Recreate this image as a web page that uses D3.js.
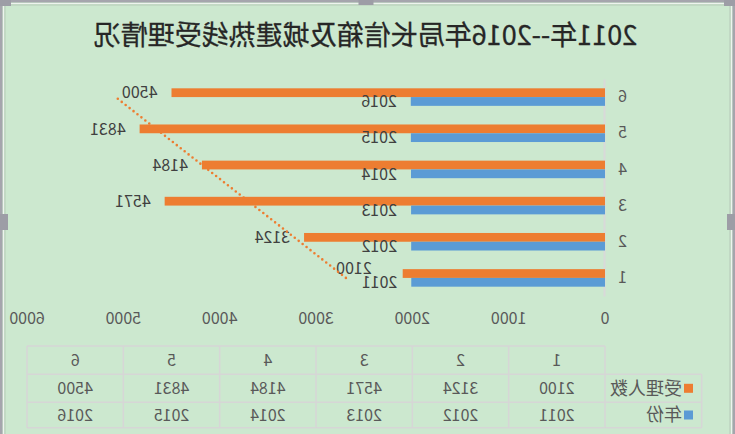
<!DOCTYPE html>
<html>
<head>
<meta charset="utf-8">
<script src="https://cdn.jsdelivr.net/npm/d3@7"></script>
<style>
  body { margin: 0; background: #cce8cf; }
  svg { display: block; font-family: "Noto Sans CJK SC", "Noto Sans", sans-serif; }
</style>
</head>
<body>
<div class="canvas"></div>
<script>
// data
const categories = ['1', '2', '3', '4', '5', '6'];
const people = [2100, 3124, 4571, 4184, 4831, 4500];   // 受理人数
const years = [2011, 2012, 2013, 2014, 2015, 2016];    // 年份
const xTicks = [0, 1000, 2000, 3000, 4000, 5000, 6000];
const seriesNames = ['受理人数', '年份'];
const seriesColors = ['#ed7d31', '#5b9bd5'];
const title = '2011年--2016年局长信箱及城建热线受理情况';

const W = 735, H = 434;

const svg = d3.select('.canvas')
  .append('svg')
    .attr('width', W)
    .attr('height', H);

svg.append('rect')
  .attr('width', W).attr('height', H)
  .attr('fill', '#cce8cf');

// the reference is a mirrored picture, so draw normally and flip the whole thing
const root = svg.append('g')
  .attr('transform', `translate(${W}, 0) scale(-1, 1)`);

// frame of the chart object
const frame = root.append('g');
frame.append('rect').attr('x', 1).attr('y', 1).attr('width', W - 2).attr('height', H + 4)
  .attr('fill', 'none').attr('stroke', '#a5a5ad').attr('stroke-width', 3);
frame.append('rect').attr('x', 3.5).attr('y', 3.5).attr('width', W - 7).attr('height', H)
  .attr('fill', 'none').attr('stroke', '#eef3ee').attr('stroke-width', 1);
frame.append('rect').attr('x', 5).attr('y', 5).attr('width', W - 10).attr('height', H)
  .attr('fill', 'none').attr('stroke', '#b7c9b9').attr('stroke-width', 1);
// selection handles
[[0, 0, 11, 6], [W - 11, 0, 11, 6], [W / 2 - 6, 0, 15, 5], [0, 214, 8, 16], [W - 8, 214, 8, 16]]
  .forEach(h => frame.append('rect')
    .attr('x', h[0]).attr('y', h[1]).attr('width', h[2]).attr('height', h[3])
    .attr('fill', '#9d9da6'));

// title
root.append('text')
  .attr('x', 369.5).attr('y', 45)
  .attr('text-anchor', 'middle')
  .attr('font-size', 27)
  .attr('fill', '#262626')
  .attr('stroke', '#262626')
  .attr('stroke-width', 0.3)
  .text(title);

// scales
const x = d3.scaleLinear()
  .domain([0, 6000])
  .range([130, 708]);

const y = d3.scaleBand()
  .domain(categories)
  .range([296, 79])
  .paddingInner(0.515)
  .paddingOuter(0.2575);

const ySub = d3.scaleBand()
  .domain(seriesNames)
  .range([0, y.bandwidth()]);

// value axis labels (no line, no gridlines)
root.append('g').selectAll('text')
  .data(xTicks)
  .enter()
  .append('text')
    .attr('x', d => x(d))
    .attr('y', 324)
    .attr('text-anchor', 'middle')
    .attr('font-size', 16)
    .attr('fill', '#595959')
    .text(d => d);

// category axis
const yAxis = d3.axisLeft(y).tickSize(0).tickPadding(13);
const yAxisGroup = root.append('g')
  .attr('transform', `translate(${x(0)}, 0)`)
  .call(yAxis);
yAxisGroup.select('.domain')
  .attr('stroke', '#d9d9d9')
  .attr('stroke-width', 2);
yAxisGroup.selectAll('text')
  .attr('font-size', 16)
  .attr('font-family', '"Noto Sans CJK SC", sans-serif')
  .attr('fill', '#595959');

// bars
const series = [people, years];
series.forEach((vals, s) => {
  const rows = vals.map((v, i) => ({ cat: categories[i], v }));
  root.append('g').selectAll('rect')
    .data(rows)
    .enter()
    .append('rect')
      .attr('x', x(0))
      .attr('y', d => y(d.cat) + ySub(seriesNames[s]))
      .attr('width', d => x(d.v) - x(0))
      .attr('height', ySub.bandwidth())
      .attr('fill', seriesColors[s]);

  root.append('g').selectAll('text')
    .data(rows)
    .enter()
    .append('text')
      // first 受理人数 label was dragged aside in the original
      .attr('x', (d, i) => x(d.v) + (s === 0 && i === 0 ? 31 : 14))
      .attr('y', (d, i) => y(d.cat) + ySub(seriesNames[s]) + ySub.bandwidth() / 2 + (s === 0 && i === 0 ? -5 : 0))
      .attr('dy', '0.36em')
      .attr('font-size', 16)
      .attr('fill', '#404040')
      .text(d => d.v);
});

// linear trendline for 受理人数
const xs = categories.map(Number);
const mx = d3.mean(xs), my = d3.mean(people);
const slope = d3.sum(xs, (c, i) => (c - mx) * (people[i] - my)) / d3.sum(xs, c => (c - mx) ** 2);
const trend = xs.map(c => my + slope * (c - mx));
const line = d3.line()
  .x(d => x(d[1]))
  .y(d => y(d[0]) + y.bandwidth() / 2);
root.append('path')
  .datum([[categories[0], trend[0]], [categories[5], trend[5]]])
  .attr('d', line)
  .attr('fill', 'none')
  .attr('stroke', '#ed7d31')
  .attr('stroke-width', 2.6)
  .attr('stroke-linecap', 'round')
  .attr('stroke-dasharray', '0 5');

// data table
const rowY = [346, 374.3, 402.3, 427.7];
const legendLeft = 33.3;
const table = root.append('g');
const grid = '#d6d6d6';
const colEdges = xTicks.map(t => x(t));

// horizontal lines
table.append('line').attr('x1', colEdges[0]).attr('x2', colEdges[6]).attr('y1', rowY[0]).attr('y2', rowY[0]);
rowY.slice(1).forEach(yy => table.append('line')
  .attr('x1', legendLeft).attr('x2', colEdges[6]).attr('y1', yy).attr('y2', yy));
// vertical lines
colEdges.forEach(xx => table.append('line')
  .attr('x1', xx).attr('x2', xx).attr('y1', rowY[0]).attr('y2', rowY[3]));
table.append('line').attr('x1', legendLeft).attr('x2', legendLeft).attr('y1', rowY[1]).attr('y2', rowY[3]);
table.selectAll('line').attr('stroke', grid).attr('stroke-width', 1.6);

const colCenter = i => (colEdges[i] + colEdges[i + 1]) / 2;
const rowCenter = r => (rowY[r] + rowY[r + 1]) / 2;
const cellRows = [categories, people, years];
cellRows.forEach((vals, r) => {
  table.append('g').selectAll('text')
    .data(vals)
    .enter()
    .append('text')
      .attr('x', (d, i) => colCenter(i))
      .attr('y', rowCenter(r))
      .attr('dy', '0.36em')
      .attr('text-anchor', 'middle')
      .attr('font-size', 16)
      .attr('fill', '#595959')
      .text(d => d);
});

// legend keys in the table
seriesNames.forEach((name, s) => {
  table.append('rect')
    .attr('x', 42).attr('y', rowCenter(s + 1) - 4.5)
    .attr('width', 9).attr('height', 9)
    .attr('fill', seriesColors[s]);
  table.append('text')
    .attr('x', 53).attr('y', rowCenter(s + 1))
    .attr('dy', '0.36em')
    .attr('font-size', 18)
    .attr('fill', '#595959')
    .text(name);
});
</script>
</body>
</html>
